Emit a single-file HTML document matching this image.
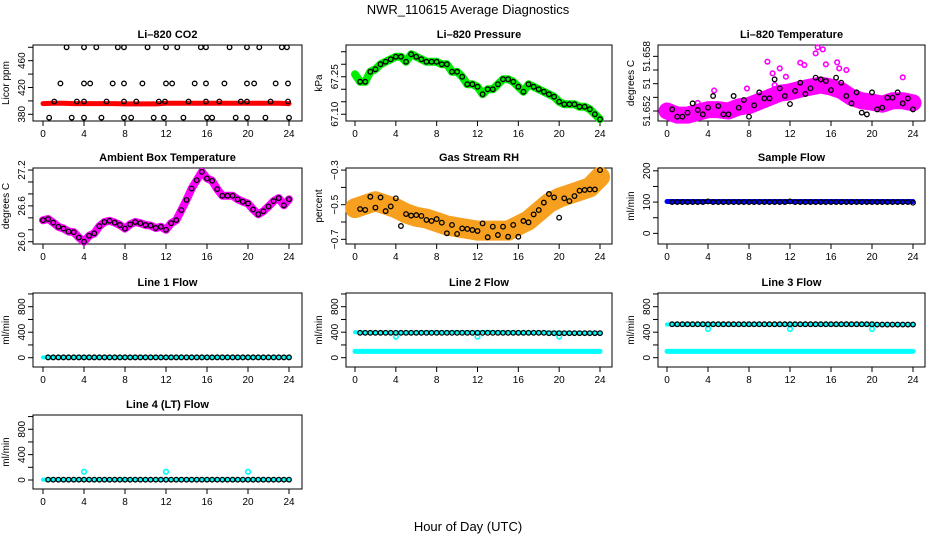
<!DOCTYPE html>
<html><head><meta charset="utf-8"><style>
body{margin:0;background:#fff}
svg{display:block;font-family:"Liberation Sans",sans-serif}
</style></head><body>
<svg id="chart" width="936" height="540" viewBox="0 0 936 540" xmlns="http://www.w3.org/2000/svg">
<text x="468" y="14" text-anchor="middle" font-size="13">NWR_110615  Average Diagnostics</text>
<text x="468" y="531" text-anchor="middle" font-size="13">Hour of Day (UTC)</text>
</svg>
<script>
const hours=[0.5,1,1.5,2,2.5,3,3.5,4,4.5,5,5.5,6,6.5,7,7.5,8,8.5,9,9.5,10,10.5,11,11.5,12,12.5,13,13.5,14,14.5,15,15.5,16,16.5,17,17.5,18,18.5,19,19.5,20,20.5,21,21.5,22,22.5,23,23.5,24];
const hourly=[0,1,2,3,4,5,6,7,8,9,10,11,12,13,14,15,16,17,18,19,20,21,22,23,24];
const xTicks=[0,4,8,12,16,20,24];
// CO2
const co2Hours=[2.3,4.0,5.2,7.3,7.9,10.2,12.0,13.1,15.4,15.9,18.2,19.9,21.1,23.3,23.8,1.7,4.0,4.6,6.8,7.9,9.7,12.0,12.6,14.8,15.9,17.7,19.9,20.6,22.7,23.9,1.1,3.3,4.0,6.2,7.9,9.1,11.3,11.9,14.2,15.9,17.2,19.3,19.9,22.2,23.9,0.6,2.8,4.0,5.7,7.9,8.6,10.8,11.8,13.7,16.0,16.5,18.8,19.9,21.7,24.0];
const co2Values=[480,480,480,480,480,480,480,480,480,480,480,480,480,480,480,426,426,426,426,426,426,426,426,426,426,426,426,426,426,426,399,399,399,399,399,399,399,399,399,399,399,399,399,399,399,375,375,375,375,375,375,375,375,375,375,375,375,375,375,375];
const co2Band=[396,396.5,396.5,396,396,396,396,396,395.5,395.5,395.5,395.5,396.5,396.5,396.5,396.5,396.5,396.5,396.5,396.5,396.5,396.5,396.5,396.5,396];
// Pressure
const pressure=[67.23,67.23,67.27,67.28,67.30,67.31,67.32,67.33,67.33,67.31,67.34,67.33,67.32,67.31,67.31,67.31,67.30,67.30,67.27,67.27,67.25,67.22,67.22,67.21,67.18,67.20,67.20,67.22,67.24,67.24,67.23,67.21,67.19,67.22,67.21,67.20,67.19,67.18,67.17,67.15,67.14,67.14,67.14,67.13,67.13,67.12,67.10,67.08];
const pressureStart=67.26;
// Li-820 temperature
const temp=[51.65024,51.64917,51.64917,51.64976,51.65112,51.65015,51.64951,51.65049,51.65220,51.65073,51.64951,51.64951,51.65220,51.65049,51.65161,51.64917,51.65083,51.65273,51.65185,51.65185,51.65463,51.65332,51.65220,51.65102,51.65293,51.65415,51.65249,51.65332,51.65488,51.65463,51.65439,51.65307,51.65488,51.65415,51.65220,51.65112,51.65273,51.64976,51.64951,51.65273,51.65024,51.65049,51.65195,51.65195,51.65273,51.65112,51.65185,51.65024];
const tempBand=[51.6500,51.6494,51.6494,51.6498,51.6502,51.6502,51.6500,51.6506,51.6508,51.6514,51.6520,51.6526,51.6528,51.6532,51.6535,51.6538,51.6535,51.6530,51.6520,51.6515,51.6513,51.6510,51.6515,51.6515,51.6512];
const tempOutHours=[9.8,10.3,11.0,11.6,13.0,13.4,14.5,14.7,15.2,15.5,16.6,16.8,17.5,23.0,4.6,7.8,10.5,3.0];
const tempOutValues=[51.65722,51.65551,51.65624,51.65502,51.65707,51.65673,51.65844,51.65932,51.65902,51.65683,51.65712,51.65624,51.65600,51.65493,51.6530,51.6533,51.6538,51.6512];
// Ambient box temperature
const ambient=[26.36,26.38,26.32,26.25,26.22,26.17,26.16,26.07,26.00,26.10,26.14,26.26,26.33,26.35,26.32,26.28,26.22,26.29,26.33,26.31,26.28,26.27,26.23,26.25,26.20,26.31,26.36,26.53,26.70,26.89,27.03,27.17,27.06,27.02,26.88,26.77,26.77,26.77,26.71,26.67,26.64,26.54,26.46,26.51,26.59,26.68,26.73,26.61,26.71];
// Gas stream RH
const rh=[-0.525,-0.53,-0.454,-0.517,-0.458,-0.537,-0.51,-0.463,-0.623,-0.554,-0.563,-0.56,-0.565,-0.588,-0.594,-0.583,-0.604,-0.665,-0.617,-0.669,-0.637,-0.64,-0.646,-0.652,-0.608,-0.688,-0.627,-0.675,-0.627,-0.685,-0.617,-0.685,-0.594,-0.602,-0.556,-0.531,-0.488,-0.438,-0.458,-0.575,-0.463,-0.479,-0.45,-0.419,-0.415,-0.412,-0.412,-0.30];
const rhBand=[-0.52,-0.50,-0.48,-0.50,-0.52,-0.55,-0.57,-0.58,-0.60,-0.62,-0.63,-0.64,-0.65,-0.65,-0.65,-0.65,-0.62,-0.59,-0.54,-0.49,-0.46,-0.44,-0.42,-0.40,-0.34];
// Flows
const sampleBlack=[100,100,100,100,100,100,100,102,100,100,100,100,100,100,100,100,100,100,100,100,100,100,100,102,100,100,100,100,100,100,100,100,100,100,100,100,100,100,100,100,100,100,100,100,100,100,100,98];
const sampleBlue=[102,102,102,102,102,102,102,102,102,102,102,102,102,102,102,102,102,102,102,102,102,102,102,102,102];
const line1Black=[5,5,5,5,5,5,5,5,5,5,5,5,5,5,5,5,5,5,5,5,5,5,5,5,5,5,5,5,5,5,5,5,5,5,5,5,5,5,5,5,5,5,5,5,5,5,5,5];
const line1Cyan=[5,5,5,5,5,5,5,5,5,5,5,5,5,5,5,5,5,5,5,5,5,5,5,5,5];
const line2Black=[390,390,390,390,390,390,390,390,390,390,390,390,390,390,390,390,390,390,390,390,390,390,390,390,390,390,390,390,390,390,390,390,390,390,390,390,390,385,385,385,385,385,385,385,385,385,385,385];
const line2CyanHigh=[400,395,395,395,395,395,395,400,400,400,400,400,400,405,400,400,395,395,395,395,395,390,390,390,390];
const line2CyanLow=[100,100,100,100,100,100,100,100,100,100,100,100,100,100,100,100,100,100,100,100,100,100,100,100,100];
const dipHours=[4,12,20];
const line2Dips=[330,330,330];
const line3Black=[525,525,525,525,525,525,525,525,525,525,525,525,525,525,525,525,525,525,525,525,525,525,525,525,525,525,525,525,525,525,525,525,525,525,525,525,525,525,525,525,520,520,520,520,520,520,520,520];
const line3CyanHigh=[520,520,520,520,520,520,520,520,520,520,520,520,520,520,520,520,520,520,520,520,520,520,520,520,520];
const line3CyanLow=[100,100,100,100,100,100,100,100,100,100,100,100,100,100,100,100,100,100,100,100,100,100,100,100,100];
const line3Dips=[450,450,450];
const line4Black=[5,5,5,5,5,5,5,5,5,5,5,5,5,5,5,5,5,5,5,5,5,5,5,5,5,5,5,5,5,5,5,5,5,5,5,5,5,5,5,5,5,5,5,5,5,5,5,5];
const line4Cyan=[5,5,5,5,5,5,5,5,5,5,5,5,5,5,5,5,5,5,5,5,5,5,5,5,5];
const line4Spikes=[130,130,130];

const svg=document.getElementById('chart');
const NS='http://www.w3.org/2000/svg';
function mk(tag,attrs,parent){const e=document.createElementNS(NS,tag);for(const k in attrs)e.setAttribute(k,attrs[k]);(parent||svg).appendChild(e);return e;}
const colL=[33,346,658],colR=[302,612,925],colX0=[43,355,667],colX24=[289,600,913];
const rowT=[45,168,293,415],rowB=[121,244,367,489];

function panel(name,col,row,title,ylab,dom,ticks,labels){
  const g=mk('g',{});
  
  
  const L=colL[col],R=colR[col],T=rowT[row],B=rowB[row];
  const xs=h=>colX0[col]+(colX24[col]-colX0[col])*h/24;
  const ys=v=>B-(v-dom[0])/(dom[1]-dom[0])*(B-T);
  const box=mk('rect',{x:L,y:T,width:R-L,height:B-T,fill:'none',stroke:'#000','stroke-width':1},g);
  
  
  const t=mk('text',{x:(L+R)/2,y:T-7,'text-anchor':'middle','font-size':11,'font-weight':'bold'},g);
  t.textContent=title;
  
  
  const yl=mk('text',{transform:`translate(${L-24},${(T+B)/2}) rotate(-90)`,'text-anchor':'middle','font-size':10},g);
  yl.textContent=ylab;
  
  
  const xa=mk('g',{},g);
  
  
  mk('line',{x1:xs(0),x2:xs(24),y1:B,y2:B,stroke:'#000'},xa);
  xTicks.forEach(v=>{
    mk('line',{x1:xs(v),x2:xs(v),y1:B,y2:B+5,stroke:'#000'},xa);
    const tx=mk('text',{x:xs(v),y:B+16,'text-anchor':'middle','font-size':10},xa);
    tx.textContent=String(v);
    
    
  });
  const ya=mk('g',{},g);
  
  
  mk('line',{x1:L,x2:L,y1:ys(ticks[0]),y2:ys(ticks[ticks.length-1]),stroke:'#000'},ya);
  ticks.forEach((v,i)=>{
    mk('line',{x1:L-5,x2:L,y1:ys(v),y2:ys(v),stroke:'#000'},ya);
    if(labels[i]){
      const ty=mk('text',{transform:`translate(${L-8},${ys(v)}) rotate(-90)`,'text-anchor':'middle','font-size':10},ya);
      ty.textContent=labels[i];
      
      
    }
  });
  const clip=mk('g',{},g);
  
  
  return {g:clip,xs,ys};
}
function band(p,hx,vals,color,w,nm){
  const pl=mk('polyline',{points:hx.map((h,i)=>p.xs(h)+','+p.ys(vals[i])).join(' '),fill:'none',stroke:color,'stroke-width':w,'stroke-linejoin':'round','stroke-linecap':'round'},p.g);
  
  
}
function pts(p,hx,vals,color,nm,r,sw){
  hx.forEach((h,i)=>{
    const c=mk('circle',{cx:p.xs(h),cy:p.ys(vals[i]),r:r||2.3,fill:'none',stroke:color,'stroke-width':sw||1.3},p.g);
    
    
  });
}
const flowTicks=[0,200,400,600,800,1000],flowLabels=['0','','400','','800',''];

let p=panel('co2',0,0,'Li\u2013820 CO2','Licor ppm',[370,483.4],[380,400,420,440,460,480],['380','','420','','460','']);
band(p,hourly,co2Band,'#ff0000',5,'co2-red-band');
pts(p,co2Hours,co2Values,'#000','co2-point');

p=panel('pressure',1,0,'Li\u2013820 Pressure','kPa',[67.073,67.377],[67.10,67.15,67.20,67.25,67.30,67.35],['67.10','','','67.25','','']);
band(p,[0].concat(hours),[pressureStart].concat(pressure),'#00ee00',8,'pressure-green-band');
pts(p,hours,pressure,'#000','pressure-point');

p=panel('li820-temp',2,0,'Li\u2013820 Temperature','degrees C',[51.64854,51.65966],[51.650,51.652,51.654,51.656,51.658],['51.652','','51','','51.658']);
band(p,hourly,tempBand,'#ff00ff',17,'temp-magenta-band');
pts(p,tempOutHours,tempOutValues,'#ff00ff','temp-magenta-point',2.3,1.6);
pts(p,hours,temp,'#000','temp-point');

p=panel('ambient',0,1,'Ambient Box Temperature','degrees C',[25.962,27.234],[26.0,26.2,26.4,26.6,26.8,27.0,27.2],['26.0','','','26.6','','','27.2']);
band(p,[0].concat(hours),ambient,'#ff00ff',8,'ambient-magenta-band');
pts(p,[0].concat(hours),ambient,'#000','ambient-point');

p=panel('rh',1,1,'Gas Stream RH','percent',[-0.727,-0.288],[-0.7,-0.6,-0.5,-0.4,-0.3],['\u22120.7','','\u22120.5','','\u22120.3']);
band(p,hourly,rhBand,'#f7a020',20,'rh-orange-band');
pts(p,hours,rh,'#000','rh-point');

p=panel('sample-flow',2,1,'Sample Flow','ml/min',[-34,209],[0,50,100,150,200],['0','','100','','200']);
band(p,hourly,sampleBlue,'#0000ff',5,'sample-blue-band');
pts(p,hours,sampleBlack,'#000','sample-point');

p=panel('line1',0,2,'Line 1 Flow','ml/min',[-146,1015],flowTicks,flowLabels);
band(p,hourly,line1Cyan,'#00ffff',4,'line1-cyan-band');
pts(p,hours,line1Black,'#000','line1-point');

p=panel('line2',1,2,'Line 2 Flow','ml/min',[-146,1015],flowTicks,flowLabels);
band(p,hourly,line2CyanLow,'#00ffff',5,'line2-cyan-low');
band(p,hourly,line2CyanHigh,'#00ffff',4,'line2-cyan-high');
pts(p,dipHours,line2Dips,'#00ffff','line2-cyan-dip',2.3,1.6);
pts(p,hours,line2Black,'#000','line2-point');

p=panel('line3',2,2,'Line 3 Flow','ml/min',[-146,1015],flowTicks,flowLabels);
band(p,hourly,line3CyanLow,'#00ffff',5,'line3-cyan-low');
band(p,hourly,line3CyanHigh,'#00ffff',4,'line3-cyan-high');
pts(p,dipHours,line3Dips,'#00ffff','line3-cyan-dip',2.3,1.6);
pts(p,hours,line3Black,'#000','line3-point');

p=panel('line4',0,3,'Line 4 (LT) Flow','ml/min',[-142,1025],flowTicks,flowLabels);
band(p,hourly,line4Cyan,'#00ffff',4,'line4-cyan-band');
pts(p,dipHours,line4Spikes,'#00ffff','line4-cyan-spike',2.3,1.6);
pts(p,hours,line4Black,'#000','line4-point');
</script>
</body></html>
